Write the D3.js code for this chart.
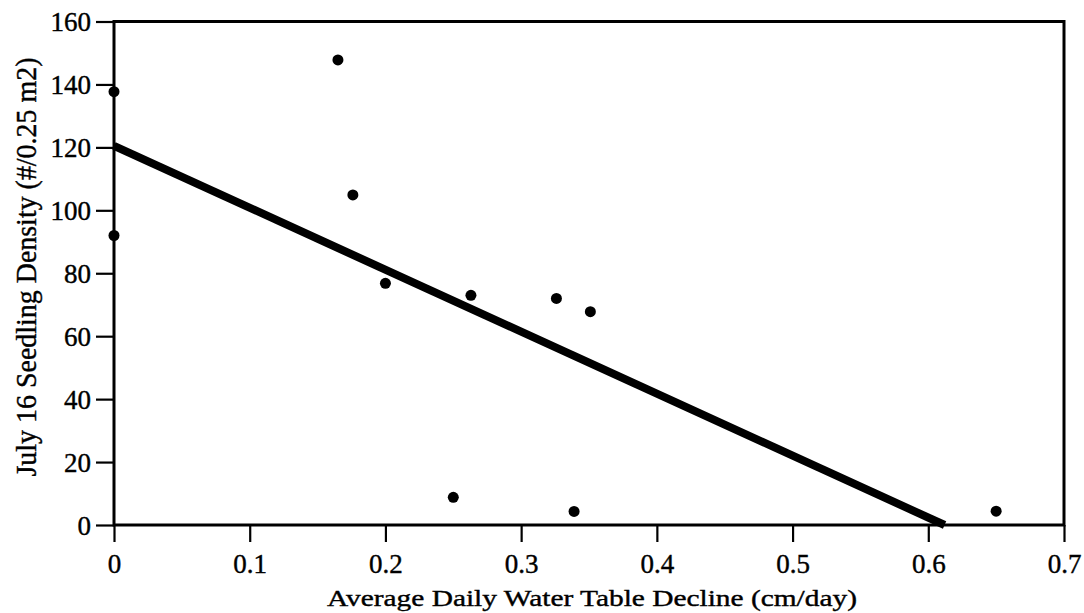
<!DOCTYPE html>
<html><head><meta charset="utf-8">
<script src="https://cdn.jsdelivr.net/npm/d3@7"></script>
<style>html,body{margin:0;padding:0;background:#fff;}svg{display:block;}</style>
</head><body>
<script>
const declineX = [0, 0, 0.165, 0.176, 0.2, 0.263, 0.326, 0.351, 0.25, 0.339, 0.65];
const densityY = [137.7, 92, 147.8, 104.9, 76.8, 73, 72, 67.8, 8.8, 4.3, 4.4];
const fitX = [0, 0.612];
const fitY = [120.5, 0];
const xTicks = [0, 0.1, 0.2, 0.3, 0.4, 0.5, 0.6, 0.7];
const yTicks = [0, 20, 40, 60, 80, 100, 120, 140, 160];
const xTitle = "Average Daily Water Table Decline (cm/day)";
const yTitle = "July 16 Seedling Density (#/0.25 m2)";

const W = 1084, H = 613;
const m = {left: 114, right: 1064, top: 21.5, bottom: 525};
const svg = d3.select("body").append("svg").attr("width", W).attr("height", H);
const x = d3.scaleLinear().domain([0, 0.7]).range([m.left, m.right]);
const y = d3.scaleLinear().domain([0, 160]).range([m.bottom, m.top]);
const font = "'Liberation Serif', 'Times New Roman', serif";

// frame
svg.append("rect").attr("x", m.left).attr("y", m.top)
  .attr("width", m.right - m.left).attr("height", m.bottom - m.top)
  .attr("fill", "none").attr("stroke", "#000").attr("stroke-width", 3);

const xAxis = svg.append("g").attr("transform", `translate(0,${m.bottom})`)
  .call(d3.axisBottom(x).tickValues(xTicks).tickSize(17).tickPadding(12)
    .tickFormat(d => d === 0 ? "0" : d3.format(".1f")(d)));
const yAxis = svg.append("g").attr("transform", `translate(${m.left},0)`)
  .call(d3.axisLeft(y).tickValues(yTicks).tickSize(18).tickPadding(5));
[xAxis, yAxis].forEach(g => {
  g.select(".domain").remove();
  g.selectAll(".tick line").attr("stroke", "#000").attr("stroke-width", 2.2);
  g.selectAll(".tick text").attr("fill", "#000").attr("stroke", "#000").attr("stroke-width", 0.4)
    .style("font-family", font).style("font-size", "27px");
});
yAxis.selectAll(".tick text").attr("dy", "0.34em");

// regression line
svg.append("line")
  .attr("x1", x(fitX[0])).attr("y1", y(fitY[0]))
  .attr("x2", x(fitX[1])).attr("y2", y(fitY[1]))
  .attr("stroke", "#000").attr("stroke-width", 8);

// points
svg.selectAll("circle.pt").data(declineX.map((d, i) => [d, densityY[i]])).enter()
  .append("circle").attr("class", "pt")
  .attr("cx", d => x(d[0])).attr("cy", d => y(d[1])).attr("r", 5.5).attr("fill", "#000");

// titles
svg.append("text").attr("x", 592).attr("y", 606)
  .attr("text-anchor", "middle").attr("stroke", "#000").attr("stroke-width", 0.4)
  .style("font-family", font).style("font-size", "24px")
  .attr("textLength", 530).attr("lengthAdjust", "spacingAndGlyphs")
  .text(xTitle);
svg.append("text").attr("transform", "translate(36,267) rotate(-90)")
  .attr("text-anchor", "middle").attr("stroke", "#000").attr("stroke-width", 0.4)
  .style("font-family", font).style("font-size", "30px")
  .attr("textLength", 419).attr("lengthAdjust", "spacingAndGlyphs")
  .text(yTitle);
</script>
</body></html>
